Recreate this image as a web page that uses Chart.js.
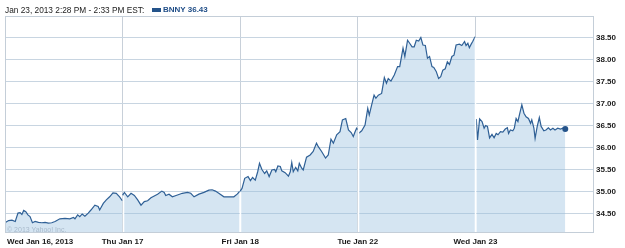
<!DOCTYPE html>
<html>
<head>
<meta charset="utf-8">
<script src="https://cdn.jsdelivr.net/npm/chart.js@4.4.1/dist/chart.umd.min.js"></script>
<style>
  body { margin: 0; background: #fff; }
  #wrap { position: relative; width: 625px; height: 248px; font-family: "Liberation Sans", Arial, sans-serif; }
  #header { position: absolute; left: 5px; top: 5px; font-size: 8.3px; line-height: 10px; color: #222; white-space: nowrap; }
  #legend-box { position: absolute; left: 152px; top: 8px; width: 9px; height: 4px; background: #24538a; }
  #legend-text { position: absolute; left: 163px; top: 5px; font-size: 8px; line-height: 10px; font-weight: bold; color: #1f4d87; white-space: nowrap; }
  #copy { position: absolute; left: 7px; top: 225px; font-size: 7px; line-height: 9px; color: #a8bacb; white-space: nowrap; }
  canvas { position: absolute; left: 0; top: 0; }
</style>
</head>
<body>
<div id="wrap">
  <canvas id="chart" width="625" height="248"></canvas>
  <div id="header">Jan 23, 2013 2:28 PM - 2:33 PM EST:</div>
  <div id="legend-box"></div>
  <div id="legend-text">BNNY 36.43</div>
  <div id="copy">© 2013 Yahoo! Inc.</div>
</div>
<script>
// Axis labels
const dayLabels = ["Wed Jan 16, 2013", "Thu Jan 17", "Fri Jan 18", "Tue Jan 22", "Wed Jan 23"]
const yTicks = [34.5, 35.0, 35.5, 36.0, 36.5, 37.0, 37.5, 38.0, 38.5]
const sessionMinutes = 390

// Prices per trading day: [minutes after open, price]
const jan16 = [
  [0, 34.30], [12, 34.35], [23, 34.36], [34, 34.33], [43, 34.52], [50, 34.53], [56, 34.49],
  [62, 34.58], [69, 34.55], [76, 34.48], [83, 34.44], [91, 34.30], [100, 34.33], [111, 34.31],
  [122, 34.30], [133, 34.31], [144, 34.29], [155, 34.30], [166, 34.33], [182, 34.39], [199, 34.40],
  [215, 34.39], [227, 34.42], [232, 34.39], [241, 34.48], [248, 34.44], [256, 34.50], [265, 34.45],
  [276, 34.52], [285, 34.59], [298, 34.70], [309, 34.67], [314, 34.59], [326, 34.74], [336, 34.82],
  [347, 34.89], [358, 34.98], [369, 34.97], [380, 34.89], [389, 34.80],
]
const jan17 = [
  [0, 34.93], [6, 34.99], [17, 34.89], [28, 34.97], [39, 34.92], [50, 34.82], [61, 34.70],
  [72, 34.78], [83, 34.80], [94, 34.87], [105, 34.91], [116, 34.95], [130, 35.02], [138, 34.99],
  [143, 34.92], [154, 34.95], [165, 34.89], [182, 34.93], [198, 34.97], [215, 34.99], [226, 34.97],
  [237, 34.89], [253, 34.95], [270, 34.99], [286, 35.04], [297, 35.05], [308, 35.02], [319, 34.97],
  [336, 34.89], [352, 34.89], [369, 34.89], [380, 34.95], [388, 35.01],
]
const jan18 = [
  [0, 35.02], [6, 35.08], [15, 35.31], [26, 35.35], [34, 35.26], [41, 35.33], [50, 35.27],
  [58, 35.46], [64, 35.65], [72, 35.51], [81, 35.42], [88, 35.48], [96, 35.35], [105, 35.50],
  [114, 35.51], [118, 35.46], [125, 35.59], [133, 35.58], [138, 35.48], [149, 35.44], [160, 35.36],
  [166, 35.46], [171, 35.67], [176, 35.46], [184, 35.56], [191, 35.48], [196, 35.65], [204, 35.54],
  [209, 35.50], [220, 35.79], [232, 35.84], [242, 35.92], [253, 36.11], [259, 36.03], [270, 35.92],
  [283, 35.77], [292, 35.84], [301, 36.20], [309, 36.11], [320, 36.30], [331, 36.37], [339, 36.64],
  [350, 36.67], [359, 36.41], [368, 36.35], [375, 36.26], [381, 36.37], [386, 36.45], [389, 36.42],
]
const jan22 = [
  [2, 36.33], [13, 36.39], [24, 36.52], [33, 36.90], [38, 36.75], [46, 36.98], [54, 37.20],
  [60, 37.13], [68, 37.20], [79, 37.24], [88, 37.60], [95, 37.47], [101, 37.58], [110, 37.52],
  [121, 37.66], [132, 37.85], [139, 37.85], [150, 38.27], [156, 38.08], [165, 38.45], [172, 38.38],
  [180, 38.30], [187, 38.30], [194, 38.45], [202, 38.43], [209, 38.51], [216, 38.34], [224, 38.33],
  [231, 38.04], [238, 38.08], [246, 37.85], [252, 37.83], [260, 37.74], [268, 37.58], [275, 37.62],
  [282, 37.77], [290, 37.80], [297, 37.96], [304, 37.90], [312, 38.08], [319, 38.11], [326, 38.34],
  [337, 38.36], [345, 38.33], [354, 38.42], [359, 38.33], [365, 38.38], [370, 38.28], [376, 38.36],
  [381, 38.42], [389, 38.53],
]
const jan23 = [
  [3, 36.66], [7, 36.18], [14, 36.66], [22, 36.60], [29, 36.45], [34, 36.51], [40, 36.49],
  [47, 36.23], [55, 36.31], [62, 36.23], [69, 36.33], [75, 36.30], [83, 36.37], [91, 36.36],
  [99, 36.43], [106, 36.46], [110, 36.33], [116, 36.41], [124, 36.39], [129, 36.45], [135, 36.67],
  [141, 36.60], [146, 36.75], [154, 36.98], [161, 36.79], [168, 36.71], [176, 36.67], [183, 36.56],
  [187, 36.64], [194, 36.45], [198, 36.22], [205, 36.49], [212, 36.69], [218, 36.49], [227, 36.39],
  [234, 36.41], [242, 36.46], [249, 36.41], [257, 36.45], [264, 36.41], [273, 36.45], [282, 36.43],
  [290, 36.45], [298, 36.43],
]
const days = [jan16, jan17, jan18, jan22, jan23]

// Styles
const fontFamily = "'Liberation Sans', Arial, sans-serif"
const lineColor = "#2f6096"
const fillColor = "rgba(150, 190, 222, 0.4)"
const dotColor = "#24538a"
const gridColor = "#c8d5e1"
const frameColor = "#c4ced8"
const labelColor = "#1a1a1a"

const datasets = days.map((points, d) => ({
  data: points.map(([m, p]) => ({ x: d + m / sessionMinutes, y: p })),
  borderColor: lineColor,
  borderWidth: 1.2,
  backgroundColor: fillColor,
  fill: "start",
  tension: 0,
  pointRadius: (ctx) => (d === days.length - 1 && ctx.dataIndex === points.length - 1 ? 3 : 0),
  pointBackgroundColor: dotColor,
  pointBorderWidth: 0,
}))

// White day separators inside the fill, plot frame, first day label
const dayBreaks = {
  id: "dayBreaks",
  afterDatasetsDraw(chart) {
    const { ctx, chartArea, scales } = chart
    ctx.save()
    ctx.strokeStyle = "#fff"
    ctx.lineWidth = 1.5
    for (let d = 1; d < days.length; d++) {
      const x = Math.round(scales.x.getPixelForValue(d)) + 0.5
      const prev = days[d - 1][days[d - 1].length - 1][1]
      const next = days[d][0][1]
      const top = scales.y.getPixelForValue(Math.max(prev, next))
      ctx.beginPath()
      ctx.moveTo(x, chartArea.bottom)
      ctx.lineTo(x, top + 1)
      ctx.stroke()
    }
    ctx.strokeStyle = frameColor
    ctx.lineWidth = 1
    ctx.strokeRect(chartArea.left + 0.5, chartArea.top + 0.5, chartArea.width, chartArea.height)

    ctx.font = "bold 8px " + fontFamily
    ctx.fillStyle = labelColor
    ctx.textAlign = "left"
    ctx.textBaseline = "middle"
    ctx.fillText(dayLabels[0], chartArea.left + 2, chartArea.bottom + 5 + 4.8)
    ctx.restore()
  },
}

new Chart(document.getElementById("chart"), {
  type: "line",
  data: { datasets: datasets },
  options: {
    responsive: false,
    animation: false,
    layout: { padding: { left: 3, top: 16, right: 0, bottom: 0 } },
    plugins: { legend: { display: false }, tooltip: { enabled: false } },
    scales: {
      x: {
        type: "linear",
        min: 0,
        max: dayLabels.length,
        afterBuildTicks: (scale) => {
          scale.ticks = [0, 1, 2, 3, 4, 5].map((v) => ({ value: v }))
        },
        afterFit: (scale) => {
          scale.height = 16
        },
        ticks: {
          autoSkip: false,
          maxRotation: 0,
          padding: 5,
          color: labelColor,
          font: { family: fontFamily, size: 8, weight: "bold" },
          callback: (v) => (v > 0 && v < dayLabels.length ? dayLabels[v] : ""),
        },
        grid: { color: "#c8d0d9", drawTicks: false },
        border: { display: false },
      },
      y: {
        position: "right",
        min: 34.09,
        max: 39.0,
        afterBuildTicks: (scale) => {
          scale.ticks = yTicks.map((v) => ({ value: v }))
        },
        afterFit: (scale) => {
          scale.width = 32
        },
        ticks: {
          padding: 3,
          color: labelColor,
          font: { family: fontFamily, size: 8, weight: "bold" },
          callback: (v) => v.toFixed(2),
        },
        grid: { color: gridColor, drawTicks: false },
        border: { display: false },
      },
    },
  },
  plugins: [dayBreaks],
})
</script>
</body>
</html>
